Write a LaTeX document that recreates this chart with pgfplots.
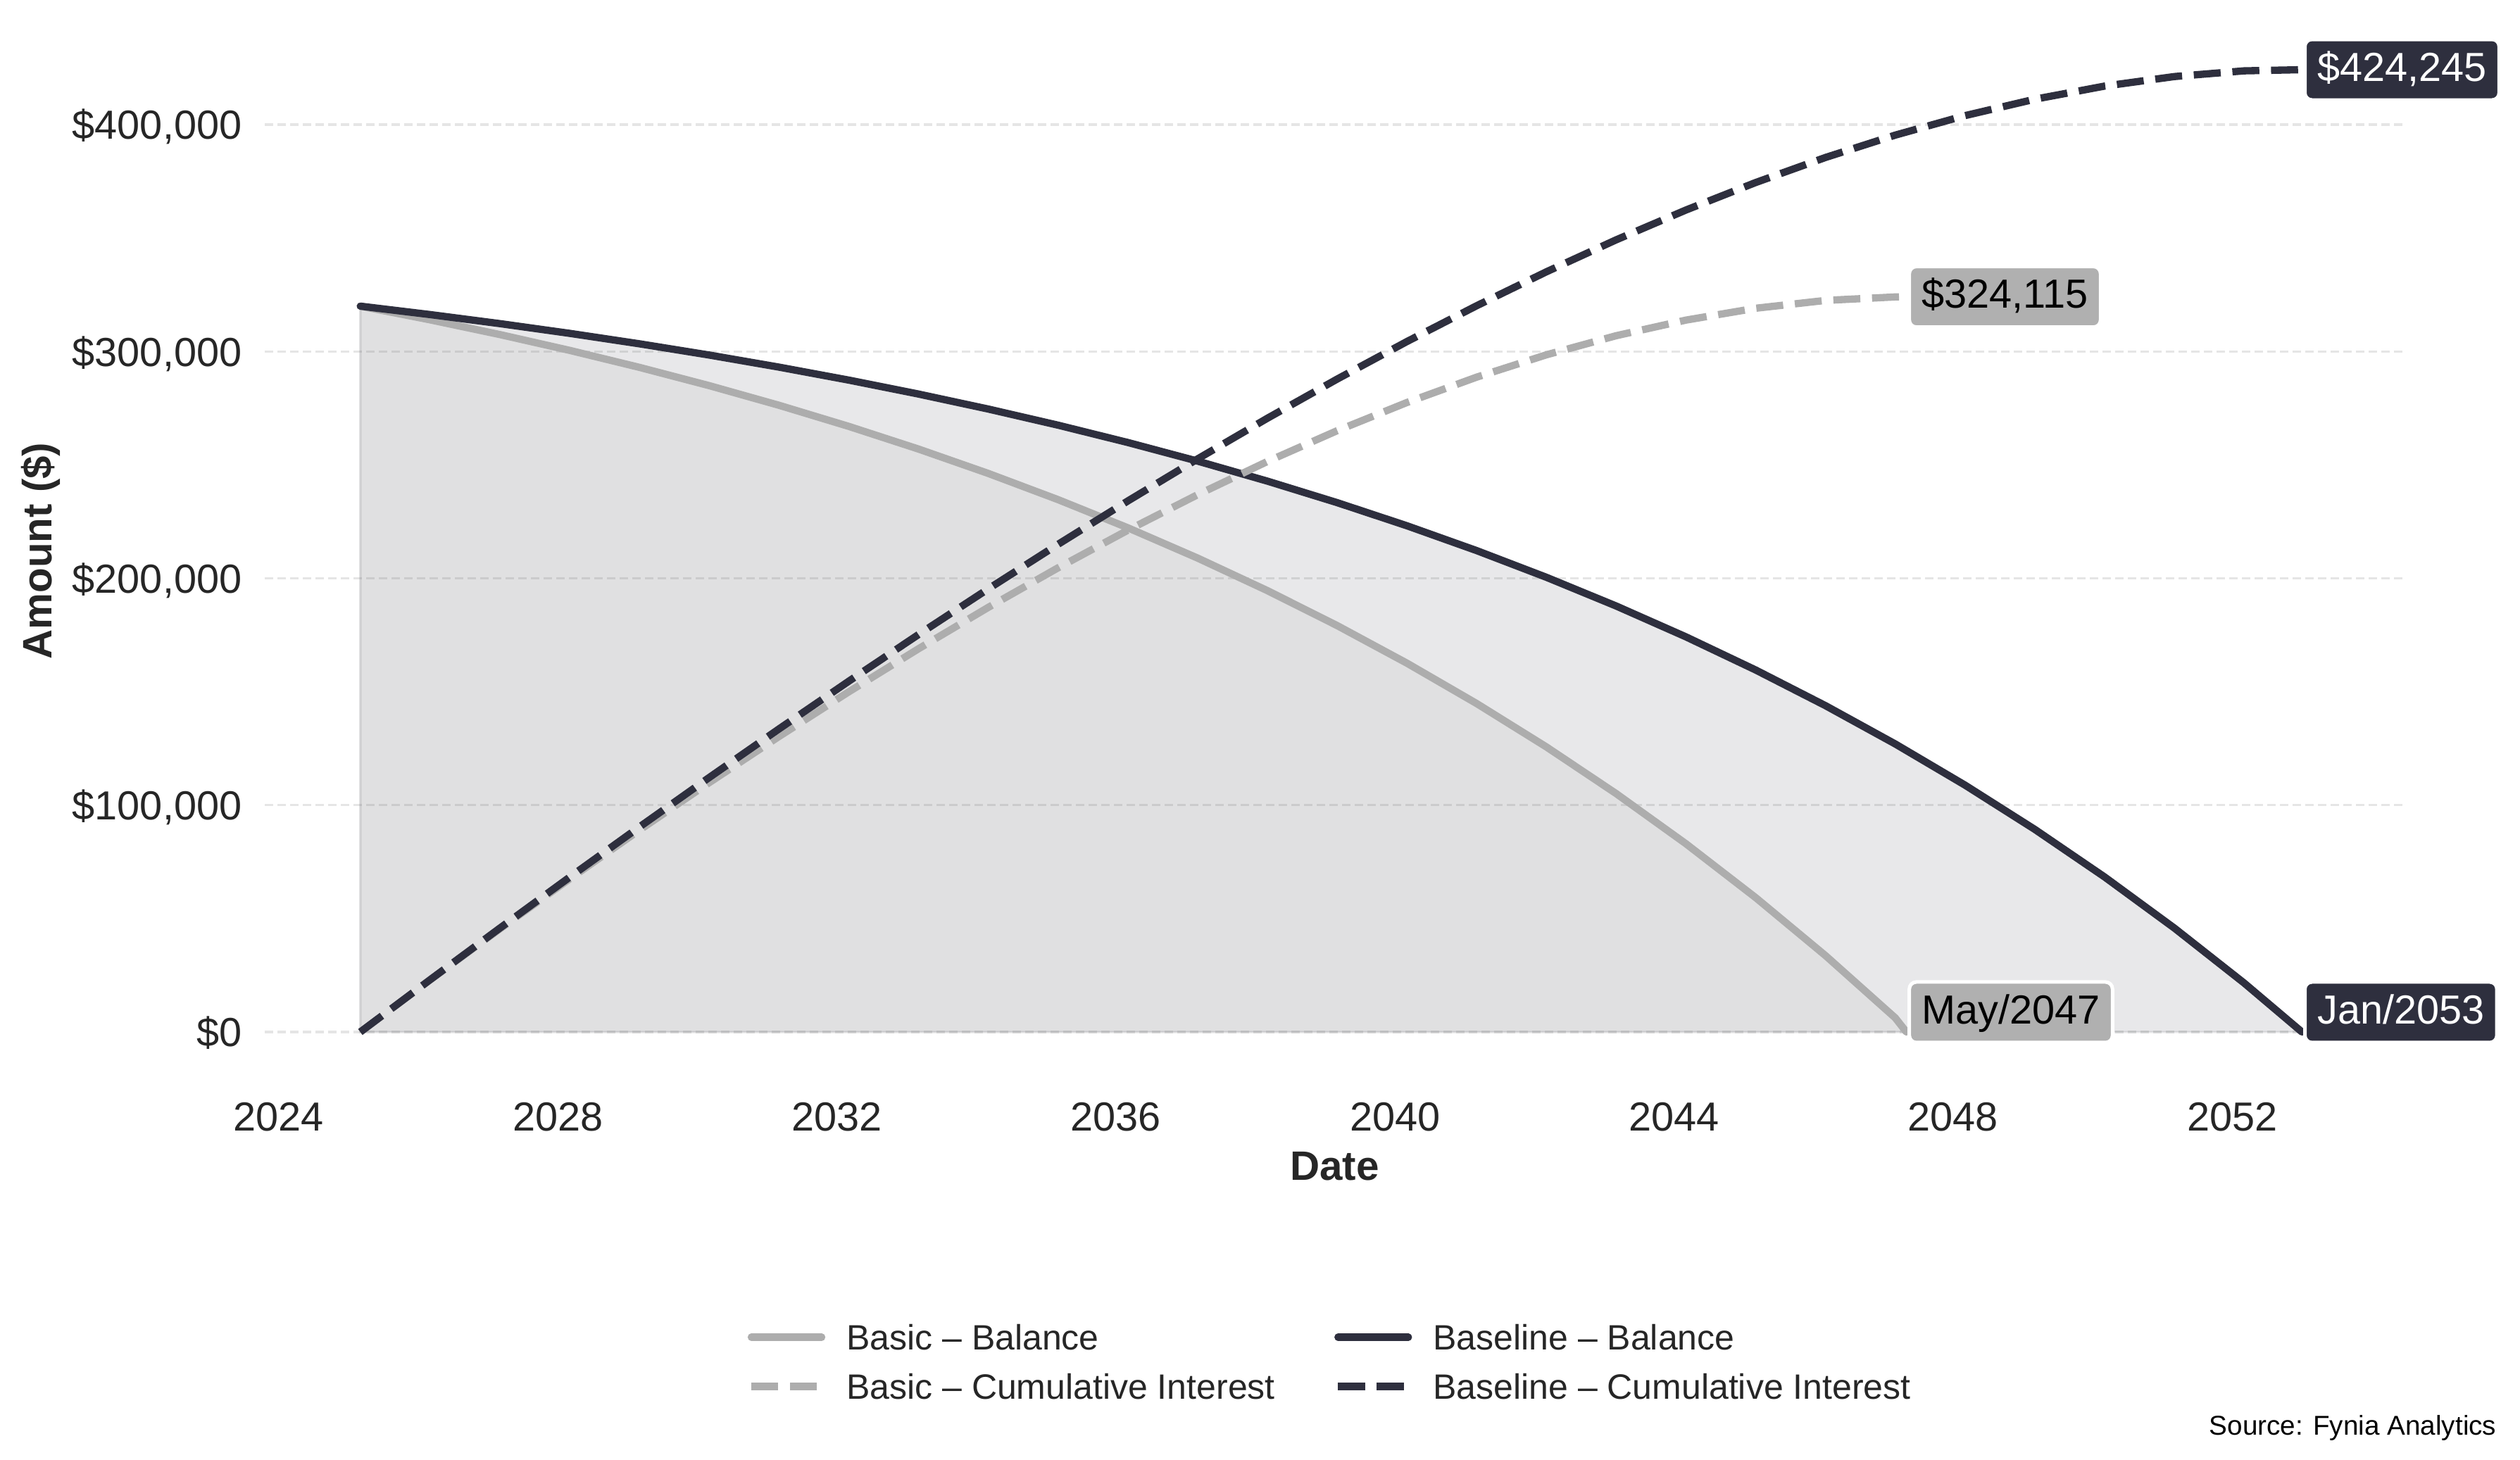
\documentclass[border=0pt]{standalone}
\usepackage{fontspec}
\setmainfont{Liberation Sans}
\usepackage{pgfplots}
\usepackage{pgfplotstable}
\pgfplotsset{compat=1.18}

\definecolor{basecol}{RGB}{46,47,62}
\definecolor{basiccol}{RGB}{173,173,173}
\definecolor{boxgray}{RGB}{176,176,176}
\definecolor{txt}{RGB}{38,38,38}
\definecolor{gridc}{RGB}{229,229,229}

% Baseline: balance and cumulative interest
\pgfplotstableread{
x y
2025.17 320000
2026.17 316288
2027.17 312299
2028.17 308011
2029.17 303402
2030.17 298448
2031.17 293123
2032.17 287401
2033.17 281251
2034.17 274640
2035.17 267534
2036.17 259897
2037.17 251689
2038.17 242867
2039.17 233385
2040.17 223194
2041.17 212240
2042.17 200466
2043.17 187812
2044.17 174211
2045.17 159593
2046.17 143881
2047.17 126994
2048.17 108844
2049.17 89335
2050.17 68368
2051.17 45832
2052.17 21609
2053.00 0
}\baselinebal

\pgfplotstableread{
x y
2025.17 0
2026.17 23034
2027.17 45790
2028.17 68248
2029.17 90384
2030.17 112176
2031.17 133597
2032.17 154620
2033.17 175216
2034.17 195350
2035.17 214990
2036.17 234099
2037.17 252636
2038.17 270560
2039.17 287823
2040.17 304378
2041.17 320170
2042.17 335141
2043.17 349233
2044.17 362377
2045.17 374505
2046.17 385539
2047.17 395397
2048.17 403993
2049.17 411229
2050.17 417008
2051.17 421218
2052.17 423740
2053.00 424245
}\baselinecum

% Basic: balance and cumulative interest
\pgfplotstableread{
x y
2025.17 320000
2026.17 313965
2027.17 307480
2028.17 300509
2029.17 293017
2030.17 284964
2031.17 276308
2032.17 267005
2033.17 257007
2034.17 246260
2035.17 234709
2036.17 222294
2037.17 208953
2038.17 194609
2039.17 179195
2040.17 162627
2041.17 144820
2042.17 125680
2043.17 105110
2044.17 82999
2045.17 59235
2046.17 33693
2047.17 6240
2047.33 0
}\basicbal

\pgfplotstableread{
x y
2025.17 0
2026.17 22957
2027.17 45464
2028.17 67485
2029.17 88985
2030.17 109924
2031.17 130260
2032.17 149949
2033.17 168943
2034.17 187188
2035.17 204629
2036.17 221206
2037.17 236857
2038.17 251505
2039.17 265083
2040.17 277507
2041.17 288692
2042.17 298544
2043.17 306966
2044.17 313847
2045.17 319075
2046.17 322525
2047.17 324064
2047.33 324115
}\basiccum

\tikzset{
  tag/.style={rounded corners=3pt, draw=white, line width=1.5pt,
    inner xsep=5.3pt, inner ysep=5pt, text height=12.8pt, text depth=3pt,
    font=\fontsize{17.3}{20}\selectfont, anchor=west, xshift=0.5pt},
  darktag/.style={tag, fill=basecol, text=white},
  graytag/.style={tag, fill=boxgray, text=black},
}

\begin{document}
\begin{tikzpicture}
\useasboundingbox (-112.8pt,-161.6pt) rectangle (960.9pt,460.3pt);
\begin{axis}[
    at={(0pt,0pt)}, anchor=south west,
    scale only axis, width=911.7pt, height=451.1pt,
    xmin=2023.80, xmax=2054.47,
    ymin=-21212, ymax=445457,
    clip=false,
    axis line style={draw=none},
    major tick length=0pt,
    xtick={2024,2028,2032,2036,2040,2044,2048,2052},
    ytick={0,100000,200000,300000,400000},
    scaled y ticks=false,
    /pgf/number format/assume math mode=true,
    xticklabel={\pgfmathprintnumber[fixed,precision=0,1000 sep={}]{\tick}},
    yticklabel={\$\pgfmathprintnumber[fixed,precision=0,1000 sep={,}]{\tick}},
    tick label style={font=\fontsize{17.3}{20}\selectfont, text=txt,
      inner sep=0pt, text height=12.4pt, text depth=0pt},
    xticklabel style={anchor=center, yshift=-15.5pt},
    yticklabel style={anchor=east, xshift=-9.6pt},
    ymajorgrids,
    major grid style={draw=gridc, line width=1pt, dash pattern=on 3.6pt off 1.8pt},
    xlabel={Date}, ylabel={Amount (\$)},
    label style={font=\bfseries\fontsize{17.5}{21}\selectfont, text=txt},
    xlabel style={at={(axis description cs:0.5,-0.0816)}, anchor=center},
    ylabel style={at={(axis description cs:-0.1046,0.5)}, anchor=center},
    legend columns=2,
    legend cell align=left,
    legend image code/.code={\draw[#1] (0pt,0pt) -- (30pt,0pt);},
    legend style={draw=none, fill=none, inner sep=0pt, outer sep=0pt,
      at={(0.2257,-0.2662)}, anchor=west,
      font=\fontsize{15}{18}\selectfont, text=txt,
      nodes={inner sep=0pt, text height=10.8pt, text depth=0pt},
      row sep=10.2pt,
      /tikz/every odd column/.append style={column sep=9pt},
      /tikz/every even column/.append style={column sep=25.3pt}},
]
% shaded areas under the balances
\addplot[draw=basecol, draw opacity=0.11, line width=1pt,
  fill=basecol, fill opacity=0.11, forget plot] table {\baselinebal} \closedcycle;
\addplot[draw=basiccol, draw opacity=0.14, line width=1pt,
  fill=basiccol, fill opacity=0.14, forget plot] table {\basicbal} \closedcycle;

\addplot[basiccol, line width=3.1pt, line cap=round, line join=round] table {\basicbal};
\addlegendentry{Basic -- Balance}
\addplot[basecol, line width=3.1pt, line cap=round, line join=round] table {\baselinebal};
\addlegendentry{Baseline -- Balance}
\addplot[basiccol, line width=3.1pt, dash pattern=on 11.5pt off 5pt] table {\basiccum};
\addlegendentry{Basic -- Cumulative Interest}
\addplot[basecol, line width=3.1pt, dash pattern=on 11.5pt off 5pt] table {\baselinecum};
\addlegendentry{Baseline -- Cumulative Interest}

\node[darktag] at (axis cs:2053.00,424245) {\$424,245};
\node[graytag] at (axis cs:2047.33,324115) {\$324,115};
\node[graytag, yshift=8.4pt] at (axis cs:2047.33,0) {May/2047};
\node[darktag, yshift=8.4pt] at (axis cs:2053.00,0) {Jan/2053};
\end{axis}
\node[anchor=east, inner sep=0pt, text height=8.3pt, text depth=0pt,
  font=\fontsize{11.6}{14}\selectfont] at (951pt,-147.2pt) {Source: Fynia Analytics};
\end{tikzpicture}
\end{document}
